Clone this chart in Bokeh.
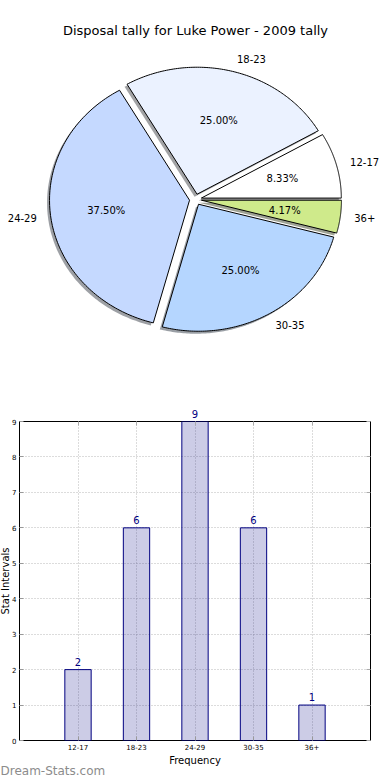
import numpy as np
from bokeh.plotting import figure
from bokeh.layouts import column
from bokeh.models import Range1d, FixedTicker, ColumnDataSource, LinearAxis, CustomLabelingPolicy
from bokeh.core.properties import value
from bokeh.embed import file_html
from bokeh.resources import INLINE

# ---------------- data ----------------
title_text = "Disposal tally for Luke Power - 2009 tally"
categories = ["12-17", "18-23", "24-29", "30-35", "36+"]
counts = [2, 6, 9, 6, 1]
pie_colors = ["#ffffff", "#ebf2ff", "#c5d9ff", "#b5d6ff", "#cfea8b"]
x_label = "Frequency"
y_label = "Stat Intervals"
watermark = "Dream-Stats.com"

FONT = "DejaVu Sans"
W = 390
FL, FR = 19, 370          # shared frame left / right (canvas px)

# ---------------- pie ----------------
PIE_H = 400
pie = figure(width=W, height=PIE_H, x_range=Range1d(FL, FR), y_range=Range1d(PIE_H, 0),
             output_backend="svg", toolbar_location=None, x_axis_type=None, y_axis_type=None,
             min_border=0, min_border_left=FL, min_border_right=W - FR,
             min_border_top=0, min_border_bottom=0)
pie.outline_line_color = None
pie.grid.visible = False

CX, CY = 195.0, 199.0      # centre (canvas px)
RX, RY = 140.0, 127.0      # elliptical radii
EXPL = 0.043               # explode fraction
SHX, SHY = -2.5, 2.5       # shadow offset

total = float(sum(counts))
fracs = np.array(counts) / total
bounds = np.concatenate([[0.0], np.cumsum(fracs)]) * 360.0

def hex_rgb(h):
    h = h.lstrip("#")
    return tuple(int(h[i:i + 2], 16) for i in (0, 2, 4))

xs, ys, sxs, sys_, shcols = [], [], [], [], []
lab_x, lab_y, lab_align = [], [], []
pct_x, pct_y, pct_text = [], [], []
for i, c in enumerate(categories):
    t0, t1 = bounds[i], bounds[i + 1]
    tm = np.deg2rad((t0 + t1) / 2.0)
    ox = CX + EXPL * RX * np.cos(tm)
    oy = CY - EXPL * RY * np.sin(tm)
    t = np.deg2rad(np.linspace(t0, t1, 120))
    px = np.concatenate([[ox], ox + RX * np.cos(t)])
    py = np.concatenate([[oy], oy - RY * np.sin(t)])
    xs.append(list(px)); ys.append(list(py))
    sxs.append(list(px + SHX)); sys_.append(list(py + SHY))
    r, g, b = hex_rgb(pie_colors[i])
    shcols.append("#%02x%02x%02x" % (int(0.3 * r), int(0.3 * g), int(0.3 * b)))
    lab_x.append(ox + 1.1 * RX * np.cos(tm))
    lab_y.append(oy - 1.1 * RY * np.sin(tm))
    lab_align.append("left" if np.cos(tm) > 0 else "right")
    pct_x.append(ox + 0.6 * RX * np.cos(tm))
    pct_y.append(oy - 0.6 * RY * np.sin(tm))
    pct_text.append("%.2f%%" % (100.0 * fracs[i]))

pie.patches(xs=sxs, ys=sys_, fill_color=shcols, fill_alpha=0.5, line_color=None)
pie.patches(xs=xs, ys=ys, fill_color=pie_colors, line_color="black", line_width=1)

lab_src = ColumnDataSource(dict(x=lab_x, y=lab_y, t=categories, a=lab_align))
r1 = pie.text(x="x", y="y", text="t", text_align="a", text_baseline="middle", source=lab_src,
              text_font=value(FONT), text_font_size="10px", text_color="black")
pct_src = ColumnDataSource(dict(x=pct_x, y=pct_y, t=pct_text))
r2 = pie.text(x="x", y="y", text="t", text_align="center", text_baseline="middle", source=pct_src,
              text_font=value(FONT), text_font_size="10px", text_color="black")
r3 = pie.text(x=[195], y=[30], text=[title_text], text_align="center", text_baseline="middle",
              text_font=value(FONT), text_font_size="13px", text_color="black")
for r in (r1, r2, r3):
    r.level = "overlay"

# ---------------- bars ----------------
BAR_H = 380
FT, FB = 21, 40            # frame top / bottom borders
idx = list(range(len(categories)))
yticks = list(range(max(counts) + 1))
bar = figure(width=W, height=BAR_H, x_range=Range1d(-1, len(categories)), y_range=Range1d(0, max(counts)),
             output_backend="svg", toolbar_location=None,
             min_border_left=FL, min_border_right=W - FR, min_border_top=FT, min_border_bottom=FB)
bar.outline_line_color = "black"
bar.outline_line_width = 1
bar.outline_line_alpha = 1

bar.vbar(x=idx, top=counts, width=0.45, fill_color="navy", fill_alpha=0.2,
         line_color="navy", line_width=1)
val_src = ColumnDataSource(dict(x=idx, y=counts, t=[str(c) for c in counts]))
vt = bar.text(x="x", y="y", text="t", source=val_src, text_align="center", text_baseline="bottom",
              y_offset=-4, text_font=value(FONT), text_font_size="10px", text_color="navy")
vt.level = "overlay"

for ax in (bar.xaxis[0], bar.yaxis[0]):
    ax.axis_line_color = None
    ax.major_tick_in = 4
    ax.major_tick_out = 0
    ax.major_tick_line_color = "#999999"
    ax.minor_tick_line_color = None
    ax.major_label_text_font = FONT
    ax.major_label_text_font_size = "7px"
    ax.major_label_text_color = "black"
    ax.major_label_standoff = 3
    ax.axis_label_text_font = FONT
    ax.axis_label_text_font_size = "10px"
    ax.axis_label_text_font_style = "normal"
    ax.axis_label_text_color = "black"

bar.xaxis.ticker = FixedTicker(ticks=idx)
bar.xaxis.major_label_overrides = {i: c for i, c in enumerate(categories)}
bar.xaxis.axis_label = x_label
bar.xaxis.axis_label_standoff = 2
bar.yaxis.ticker = FixedTicker(ticks=yticks)

# mirrored tick marks on the right and top (no labels)
for loc, tk in (("right", yticks), ("above", idx)):
    a = LinearAxis(ticker=FixedTicker(ticks=tk), axis_line_color=None, major_tick_in=4,
                   major_tick_out=0, major_tick_line_color="#aaaaaa", minor_tick_line_color=None,
                   major_label_standoff=0, major_label_text_font_size="7px",
                   major_label_policy=CustomLabelingPolicy(code="if (false) { yield 0 }"))
    bar.add_layout(a, loc)

bar.xgrid.ticker = FixedTicker(ticks=idx)
bar.ygrid.ticker = FixedTicker(ticks=yticks)
for g in (bar.xgrid[0], bar.ygrid[0]):
    g.grid_line_color = "#b8b8b8"
    g.grid_line_dash = "1 2"
    g.grid_line_width = 1

# y-axis title, placed at the canvas edge like the reference
yl = bar.text(x=[-1], y=[max(counts) / 2.0], text=[y_label], angle=np.pi / 2, x_offset=-(FL - 5),
              text_align="center", text_baseline="middle", text_font=value(FONT),
              text_font_size="10px", text_color="black")
yl.level = "overlay"

# watermark
wm = bar.text(x=[-1], y=[0], text=[watermark], x_offset=-FL, y_offset=30, text_align="left",
              text_baseline="middle", text_font=value(FONT), text_font_size="12px",
              text_color="#8c8c8c")
wm.level = "overlay"

layout = column(pie, bar, spacing=0)
open("out.html", "w").write(file_html(layout, INLINE))
